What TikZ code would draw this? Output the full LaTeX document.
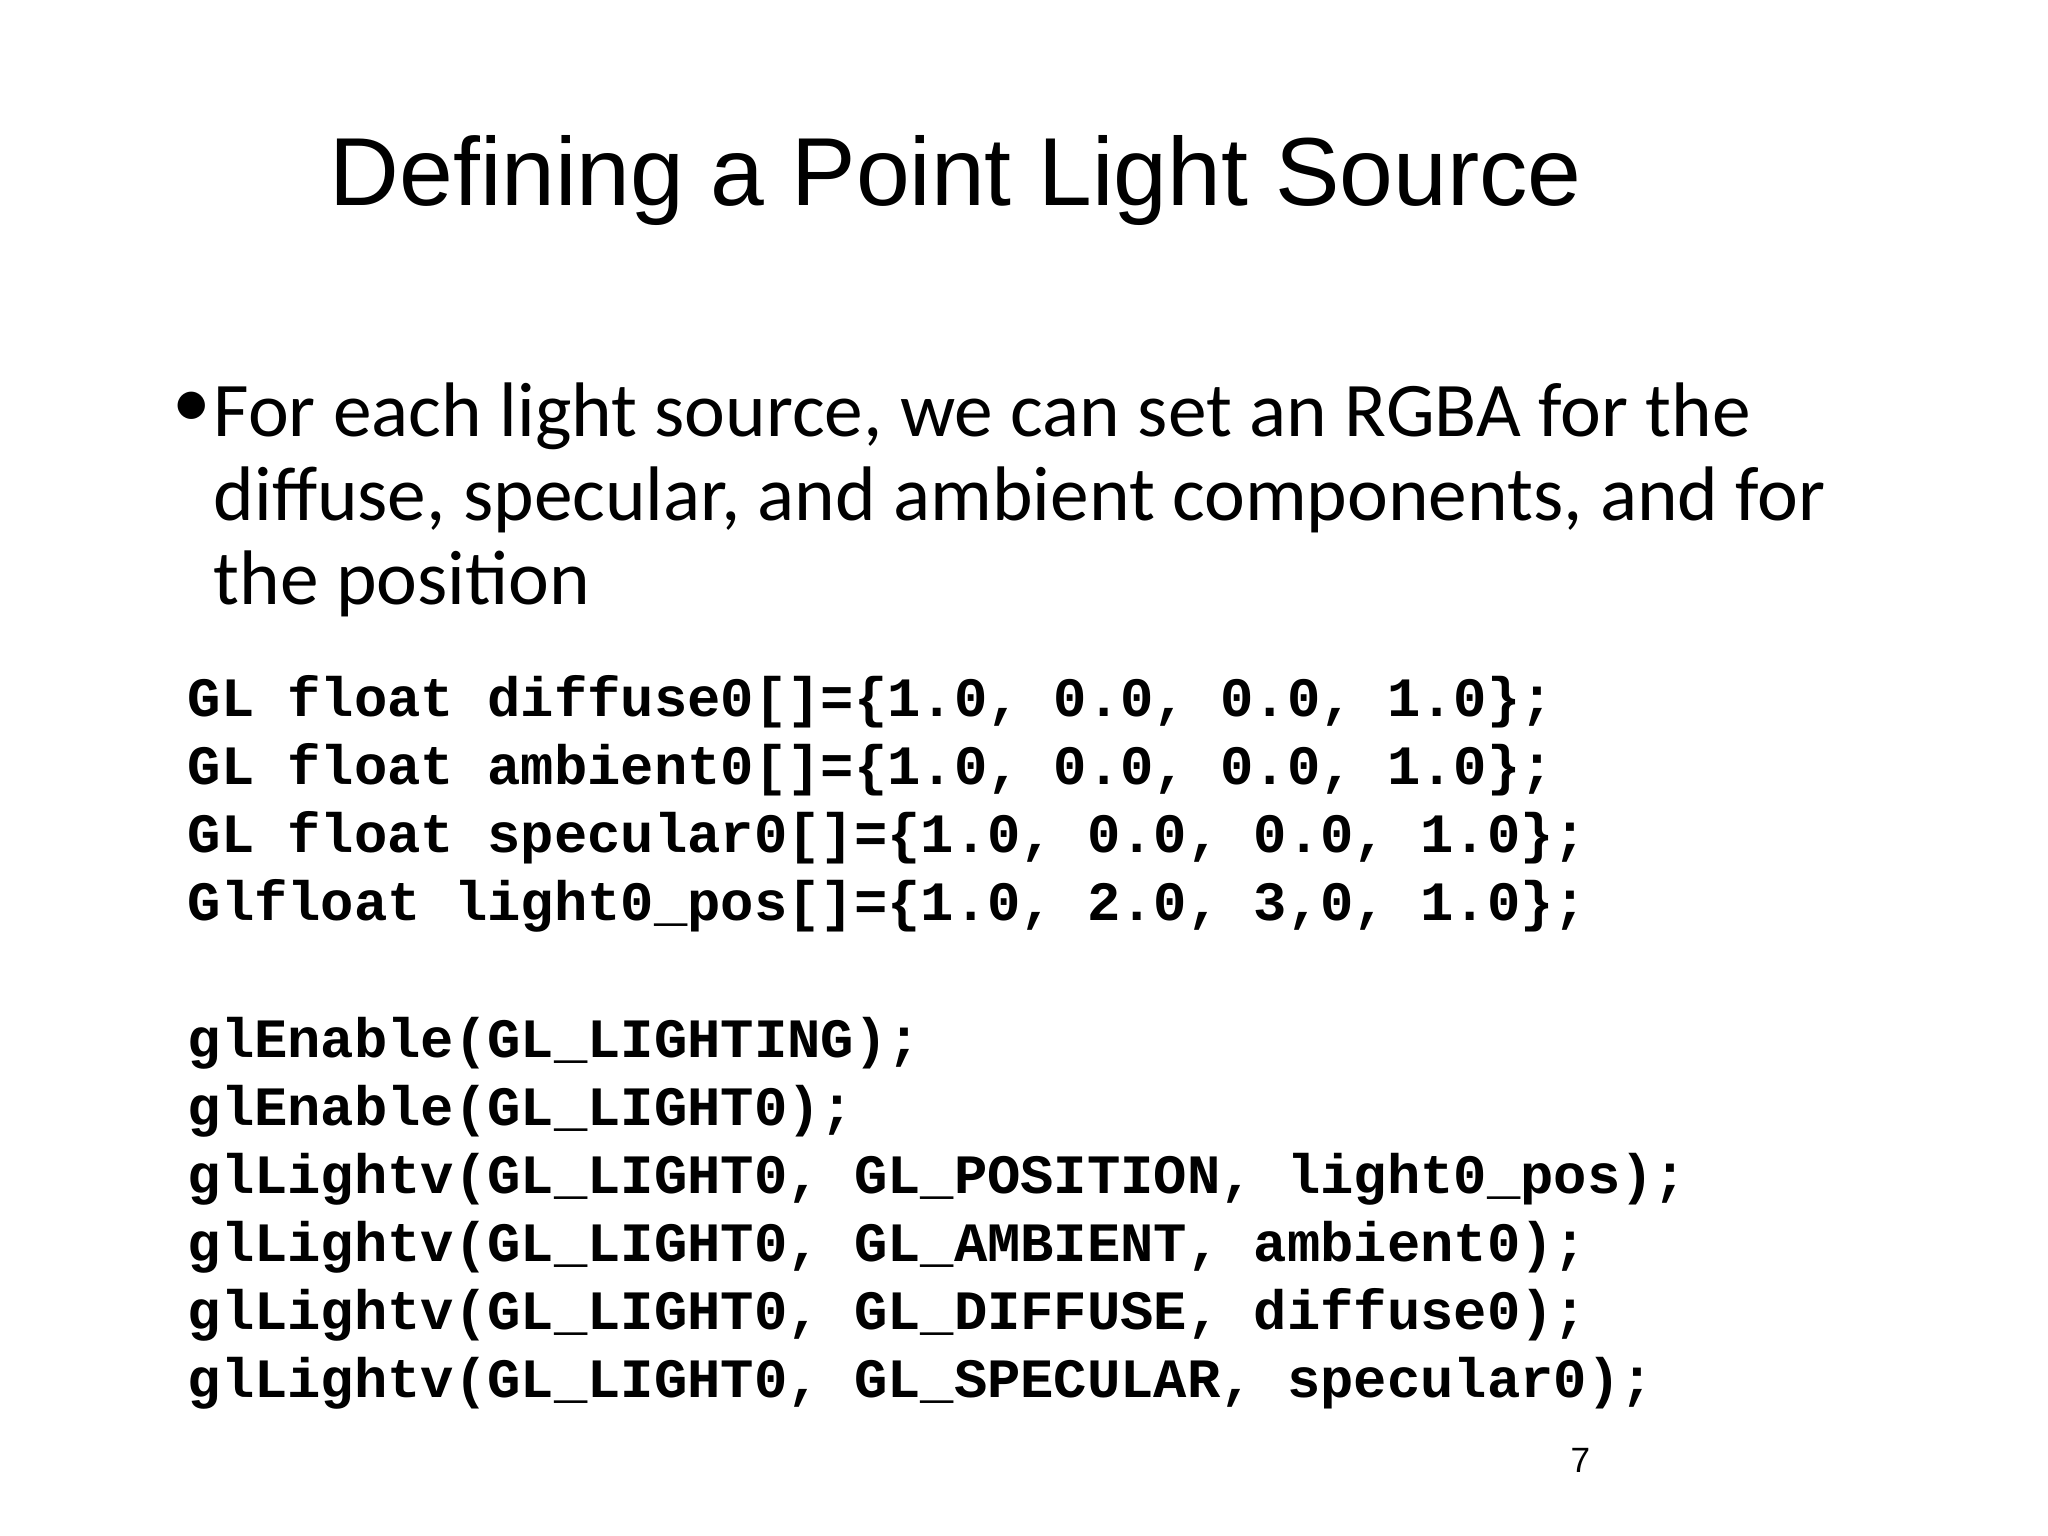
\documentclass[tikz,border=0pt]{standalone}
\usepackage{fontspec}
\setmainfont{Liberation Sans}
\newfontfamily\bodyfont{Carlito}
\newfontfamily\codefont{Liberation Mono}
\begin{document}
\begin{tikzpicture}[x=1cm,y=1cm,
  title/.style={anchor=base west,inner sep=0,font=\fontsize{27.5}{30}\selectfont},
  body/.style={anchor=base west,inner sep=0,font=\bodyfont\fontsize{22}{26}\selectfont},
  code/.style={anchor=base west,inner sep=0,font=\codefont\bfseries\fontsize{15.8}{18}\selectfont}]
\useasboundingbox[fill=white] (0,0) rectangle (20.48,15.36);
\node[title] (t) at (3.29,15.36-2.06) {Defining a Point Light Source};
\node[body] (b) at (1.72,15.36-4.28) {\textbullet};
\node[body] (l1) at (2.13,15.36-4.37) {For each light source, we can set an RGBA for the};
\node[body] (l2) at (2.13,15.36-5.21) {diffuse, specular, and ambient components, and for};
\node[body] (l3) at (2.13,15.36-6.05) {the position};
\node[code] (c1) at (1.87,15.36-7.17) {GL float diffuse0[]=\{1.0, 0.0, 0.0, 1.0\};};
\node[code] (c2) at (1.87,15.36-7.85) {GL float ambient0[]=\{1.0, 0.0, 0.0, 1.0\};};
\node[code] (c3) at (1.87,15.36-8.53) {GL float specular0[]=\{1.0, 0.0, 0.0, 1.0\};};
\node[code] (c4) at (1.87,15.36-9.21) {Glfloat light0\_pos[]=\{1.0, 2.0, 3,0, 1.0\};};
\node[code] (c5) at (1.87,15.36-10.58) {glEnable(GL\_LIGHTING);};
\node[code] (c6) at (1.87,15.36-11.26) {glEnable(GL\_LIGHT0);};
\node[code] (c7) at (1.87,15.36-11.94) {glLightv(GL\_LIGHT0, GL\_POSITION, light0\_pos);};
\node[code] (c8) at (1.87,15.36-12.62) {glLightv(GL\_LIGHT0, GL\_AMBIENT, ambient0);};
\node[code] (c9) at (1.87,15.36-13.30) {glLightv(GL\_LIGHT0, GL\_DIFFUSE, diffuse0);};
\node[code] (c10) at (1.87,15.36-13.98) {glLightv(GL\_LIGHT0, GL\_SPECULAR, specular0);};
\node[anchor=base west,inner sep=0,font=\fontsize{10}{12}\selectfont] (pg) at (15.70,15.36-14.73) {7};
\end{tikzpicture}
\end{document}
